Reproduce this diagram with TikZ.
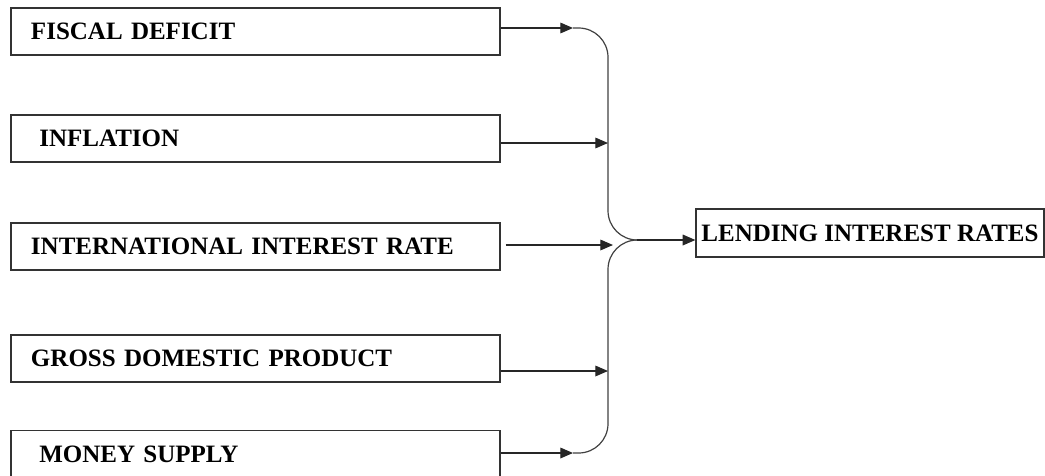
\documentclass[tikz,border=0pt]{standalone}
\usepackage{fontspec}
\setmainfont{Liberation Serif}
\usetikzlibrary{arrows.meta,positioning,calc}

\begin{document}
\begin{tikzpicture}[
  every node/.style={font=\bfseries\fontsize{18.75}{22}\selectfont},
  inbox/.style ={draw=black!80,line width=0.9pt,align=left,
                 inner xsep=15pt,inner ysep=2pt,
                 text width=336.75pt,minimum height=35.25pt},
  outbox/.style={draw=black!80,line width=0.9pt,align=center,
                 inner xsep=3pt,inner ysep=2pt,
                 minimum width=261pt,minimum height=36pt},
  fl/.style    ={-{Triangle[length=9.5pt,width=8pt]},line width=0.9pt,black!85},
  merge/.style ={line width=0.9pt,black!75,rounded corners=22pt},
  x=0.75pt,y=-0.75pt]

  \useasboundingbox (0,0) rectangle (1045,475);

  % ===== LEFT COLUMN: the five determinants =====
  \node[inbox] (fd)  at (255.5, 31.5) {FISCAL DEFICIT};
  \node[inbox] (inf) at (255.5,138.5) {\ INFLATION};
  \node[inbox] (iir) at (255.5,246.5) {INTERNATIONAL INTEREST RATE};
  \node[inbox] (gdp) at (255.5,358.5) {GROSS DOMESTIC PRODUCT};
  \node[inbox] (ms)  at (255.5,454)   {\ MONEY SUPPLY};

  % ===== RIGHT: the outcome =====
  \node[outbox] (lir) at (870,233) {LENDING INTEREST RATES};

  % ===== BRACE: arrow ends on the bus and the join point =====
  \coordinate (t1)   at (573, 28);
  \coordinate (t2)   at (608,143);
  \coordinate (t3)   at (613,245);
  \coordinate (t4)   at (608,371);
  \coordinate (t5)   at (573,453);
  \coordinate (bus)  at (608,240);
  \coordinate (join) at (637,240);

  \draw[merge] (t1) -| (bus) -- (join);
  \draw[merge] (t5) -| (bus) -- (join);

  % ===== ARROWS =====
  \draw[fl] (fd.east  |- t1) -- (t1);
  \draw[fl] (inf.east |- t2) -- (t2);
  \draw[fl] ($(iir.east |- t3)+(5,0)$) -- (t3);
  \draw[fl] (gdp.east |- t4) -- (t4);
  \draw[fl] (ms.east  |- t5) -- (t5);
  \draw[fl] (join) -- (lir.west |- join);

\end{tikzpicture}
\end{document}
